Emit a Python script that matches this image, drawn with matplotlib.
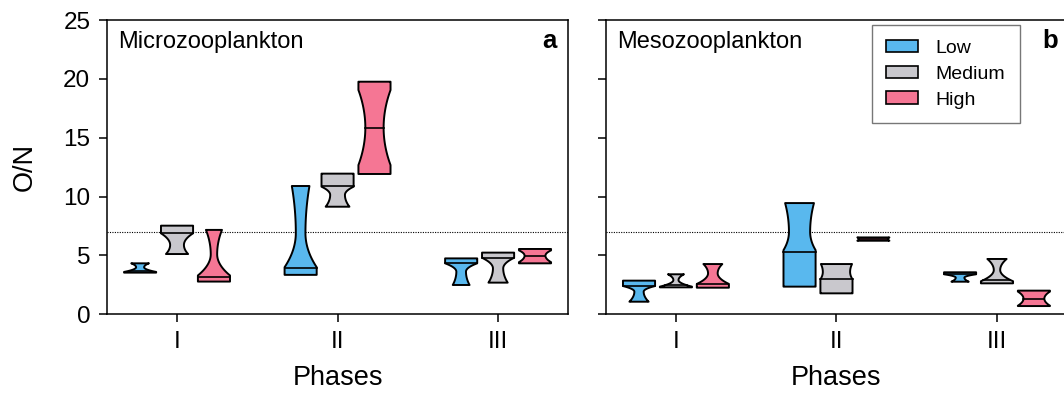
import numpy as np
import matplotlib

matplotlib.use("Agg")
import matplotlib.pyplot as plt
from matplotlib.patches import Patch

plt.rcParams["font.family"] = ["Liberation Sans", "DejaVu Sans"]

phases = ["I", "II", "III"]
groups = ["Low", "Medium", "High"]
colors = {"Low": "#59B8EE", "Medium": "#C9C8CD", "High": "#F57694"}
threshold = 7

# rows = Low, Medium, High ; columns = phase I, II, III
# q1 / median / q3 plus notch centre, lower/upper notch reach and notch indent
micro_q1 = [[3.54, 3.35, 2.49], [5.12, 9.14, 2.69], [2.78, 11.92, 4.33]]
micro_med = [[3.70, 3.90, 4.33], [6.88, 10.90, 4.80], [3.20, 15.85, 4.98]]
micro_q3 = [[4.33, 10.90, 4.75], [7.53, 11.95, 5.24], [7.17, 19.76, 5.55]]
micro_notch_c = [[4.00, 6.90, 3.62], [5.89, 10.14, 3.90], [5.10, 15.85, 4.98]]
micro_notch_lo = [[0.40, 2.90, 2.00], [1.14, 1.39, 1.89], [1.80, 3.17, 0.55]]
micro_notch_hi = [[0.52, 6.70, 0.71], [0.99, 0.70, 0.90], [3.38, 3.20, 0.45]]
micro_indent = [[0.25, 0.30, 0.30], [0.43, 0.46, 0.32], [0.20, 0.57, 0.65]]

meso_q1 = [[1.07, 2.35, 2.77], [2.29, 1.78, 2.63], [2.26, 6.25, 0.70]]
meso_med = [[2.40, 5.27, 3.40], [2.46, 2.97, 2.91], [2.60, 6.40, 1.33]]
meso_q3 = [[2.86, 9.45, 3.57], [3.40, 4.27, 4.70], [4.27, 6.53, 2.01]]
meso_notch_c = [[1.92, 7.00, 3.11], [2.91, 3.60, 3.76], [3.48, 6.40, 1.33]]
meso_notch_lo = [[1.29, 1.55, 0.56], [0.56, 0.63, 0.95], [0.90, 0.15, 0.60]]
meso_notch_hi = [[0.48, 2.92, 0.29], [0.77, 0.75, 1.33], [1.23, 0.13, 0.60]]
meso_indent = [[0.29, 0.66, 0.27], [0.16, 0.85, 0.20], [0.30, 0.90, 0.65]]

HALF = 0.1      # half box width in category units
OFFSET = 0.23   # distance between group boxes
POW = 2.0       # curvature of the notch sides


def half_width(y, c, n_lo, n_hi, wi):
    d = y - c
    n = np.where(d > 0, n_hi, n_lo)
    t = np.clip(np.abs(d) / n, 0, 1)
    return HALF * (wi + (1 - wi) * t ** POW)


def draw_box(ax, x0, q1, med, q3, c, n_lo, n_hi, wi, color):
    ys = np.linspace(q1, q3, 300)
    hw = half_width(ys, c, n_lo, n_hi, wi)
    xs = np.concatenate([x0 + hw, (x0 - hw)[::-1]])
    yy = np.concatenate([ys, ys[::-1]])
    ax.fill(xs, yy, facecolor=color, edgecolor="black", linewidth=1.4,
            joinstyle="round", zorder=3)
    mw = half_width(np.array([med]), c, n_lo, n_hi, wi)[0]
    ax.plot([x0 - mw, x0 + mw], [med, med], color="black", lw=1.2, zorder=4)


def draw_panel(ax, q1, med, q3, nc, nlo, nhi, ind, title, letter, show_y):
    for gi, g in enumerate(groups):
        for pi in range(len(phases)):
            x0 = pi + (gi - 1) * OFFSET
            draw_box(ax, x0, q1[gi][pi], med[gi][pi], q3[gi][pi],
                     nc[gi][pi], nlo[gi][pi], nhi[gi][pi], ind[gi][pi],
                     colors[g])
    ax.axhline(threshold, color="black", lw=0.8, ls=(0, (1, 1.2)), zorder=2)
    ax.set_xlim(-0.436, 2.436)
    ax.set_ylim(0, 25)
    ax.set_yticks(range(0, 26, 5))
    ax.set_xticks(range(len(phases)))
    ax.set_xticklabels(phases)
    ax.tick_params(direction="out", length=6, width=1.1, labelsize=17.5, pad=6)
    if not show_y:
        ax.set_yticklabels([])
    for s in ax.spines.values():
        s.set_linewidth(1.1)
    ax.set_xlabel("Phases", fontsize=19.5, labelpad=9)
    ax.text(0.025, 0.925, title, transform=ax.transAxes, fontsize=17,
            va="center", ha="left")
    ax.text(0.976, 0.93, letter, transform=ax.transAxes, fontsize=18.5,
            fontweight="bold", va="center", ha="right")


fig = plt.figure(figsize=(10.64, 3.95), dpi=100)
ax_a = fig.add_axes([0.1006, 0.2043, 0.4333, 0.745])
ax_b = fig.add_axes([0.5695, 0.2043, 0.4333, 0.745])

draw_panel(ax_a, micro_q1, micro_med, micro_q3, micro_notch_c,
           micro_notch_lo, micro_notch_hi, micro_indent,
           "Microzooplankton", "a", True)
draw_panel(ax_b, meso_q1, meso_med, meso_q3, meso_notch_c,
           meso_notch_lo, meso_notch_hi, meso_indent,
           "Mesozooplankton", "b", False)
ax_b.texts[-1].set_position((0.946, 0.93))
ax_b.texts[-1].set_ha("left")
ax_a.set_ylabel("O/N", fontsize=19.5, labelpad=18)

handles = [Patch(facecolor=colors[g], edgecolor="black", linewidth=1.2, label=g)
           for g in groups]
leg = ax_b.legend(handles=handles, loc="upper right",
                  bbox_to_anchor=(0.898, 0.983), fontsize=14,
                  frameon=True, fancybox=False, handlelength=1.65,
                  handleheight=0.62, handletextpad=0.9, labelspacing=0.45,
                  borderpad=0.75, borderaxespad=0)
leg.get_frame().set_edgecolor("#555555")
leg.get_frame().set_linewidth(1.0)

fig.savefig("out.png", dpi=100)
